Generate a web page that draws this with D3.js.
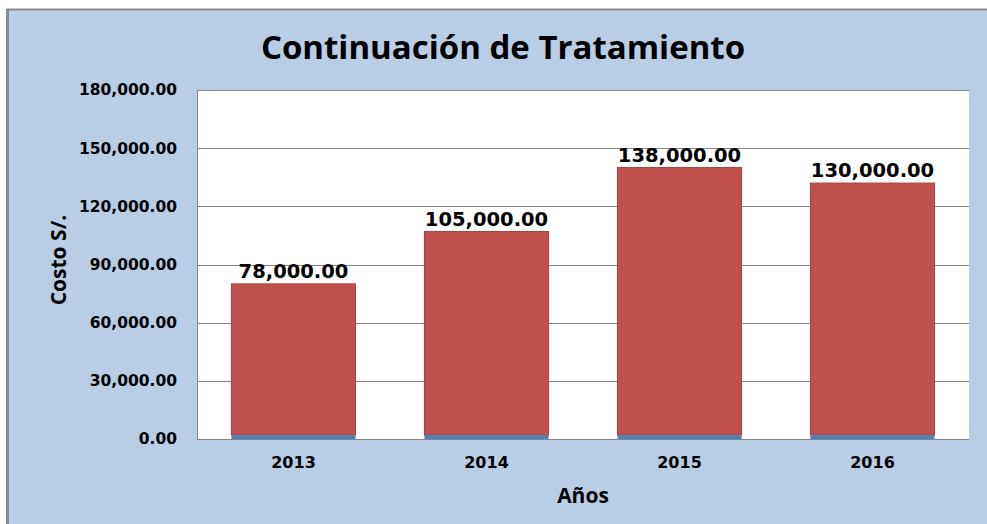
<!DOCTYPE html>
<html>
<head>
<meta charset="utf-8">
<script src="https://cdn.jsdelivr.net/npm/d3@7"></script>
<style>
  body { margin: 0; background: #fff; }
</style>
</head>
<body>
<div id="chart"></div>
<script>
// data
const years = ["2013", "2014", "2015", "2016"];
const costo = [78000, 105000, 138000, 130000];
const baseSeries = [2000, 2000, 2000, 2000];
const yTicks = [0, 30000, 60000, 90000, 120000, 150000, 180000];

const W = 987, H = 524;
const margin = {top: 90, right: 18, bottom: 85, left: 197};
const width = W - margin.left - margin.right,
      height = H - margin.top - margin.bottom;

const svg = d3.select("#chart").append("svg")
  .attr("width", W)
  .attr("height", H);

// outer background + frame
svg.append("rect")
  .attr("x", 7).attr("y", 9)
  .attr("width", W - 7).attr("height", H - 9)
  .attr("fill", "#b9cde5");
svg.append("line")
  .attr("x1", 7).attr("x2", W).attr("y1", 9.5).attr("y2", 9.5)
  .attr("stroke", "#8a8a8a").attr("stroke-width", 2);
svg.append("line")
  .attr("x1", 7.5).attr("x2", 7.5).attr("y1", 9).attr("y2", H)
  .attr("stroke", "#8a8a8a").attr("stroke-width", 3);

const g = svg.append("g")
  .attr("transform", "translate(" + margin.left + "," + margin.top + ")");

// plot area
g.append("rect")
  .attr("width", width).attr("height", height)
  .attr("fill", "#fff");

const x = d3.scaleBand()
  .domain(years)
  .range([0, width])
  .paddingInner(0.357)
  .paddingOuter(0.1785);

const y = d3.scaleLinear()
  .domain([0, 180000])
  .range([height, 0]);

// gridlines
g.append("g")
  .selectAll("line")
  .data(yTicks.slice(1))
  .join("line")
    .attr("x1", 0).attr("x2", width)
    .attr("y1", d => Math.round(y(d)) + 0.5)
    .attr("y2", d => Math.round(y(d)) + 0.5)
    .attr("stroke", "#868686")
    .attr("stroke-width", 1);

// bars: small blue base + red value stacked on top
const bars = g.append("g")
  .selectAll("g")
  .data(years)
  .join("g");

bars.append("rect")
  .attr("x", d => x(d))
  .attr("width", x.bandwidth())
  .attr("y", (d, i) => y(baseSeries[i] + costo[i]))
  .attr("height", (d, i) => y(baseSeries[i]) - y(baseSeries[i] + costo[i]))
  .attr("fill", "#c0504d")
  .attr("stroke", "#a8403d")
  .attr("stroke-width", 1);

bars.append("rect")
  .attr("x", d => x(d))
  .attr("width", x.bandwidth())
  .attr("y", (d, i) => y(baseSeries[i]))
  .attr("height", (d, i) => height - y(baseSeries[i]))
  .attr("fill", "#4f81bd");

// value labels
bars.append("text")
  .attr("x", d => x(d) + x.bandwidth() / 2)
  .attr("y", (d, i) => y(baseSeries[i] + costo[i]) - 6)
  .attr("text-anchor", "middle")
  .style("font", "bold 19.5px 'DejaVu Sans'")
  .style("fill", "#000")
  .text((d, i) => d3.format(",.2f")(costo[i]));

// axes lines
g.append("line")
  .attr("x1", 0.5).attr("x2", 0.5).attr("y1", 0).attr("y2", height)
  .attr("stroke", "#868686");
g.append("line")
  .attr("x1", 0).attr("x2", width).attr("y1", height + 0.5).attr("y2", height + 0.5)
  .attr("stroke", "#868686");

// y axis labels
const yAxis = g.append("g")
  .call(d3.axisLeft(y).tickValues(yTicks).tickFormat(d3.format(",.2f")).tickSize(0).tickPadding(20));
yAxis.select(".domain").remove();
yAxis.selectAll("text")
  .style("font", "bold 15.5px 'DejaVu Sans'")
  .style("fill", "#000");

// x axis labels
const xAxis = g.append("g")
  .attr("transform", "translate(0," + height + ")")
  .call(d3.axisBottom(x).tickSize(0).tickPadding(18));
xAxis.select(".domain").remove();
xAxis.selectAll("text")
  .style("font", "bold 16px 'DejaVu Sans'")
  .style("fill", "#000");

// title
svg.append("text")
  .attr("x", 503).attr("y", 59)
  .attr("text-anchor", "middle")
  .style("font", "bold 33px 'Open Sans'")
  .style("fill", "#000")
  .text("Continuación de Tratamiento");

// axis titles
svg.append("text")
  .attr("x", 583).attr("y", 503)
  .attr("text-anchor", "middle")
  .style("font", "bold 21px 'Open Sans'")
  .style("fill", "#000")
  .text("Años");

svg.append("text")
  .attr("transform", "translate(66,260)rotate(-90)")
  .attr("text-anchor", "middle")
  .style("font", "bold 21px 'Open Sans'")
  .style("fill", "#000")
  .text("Costo S/.");
</script>
</body>
</html>
